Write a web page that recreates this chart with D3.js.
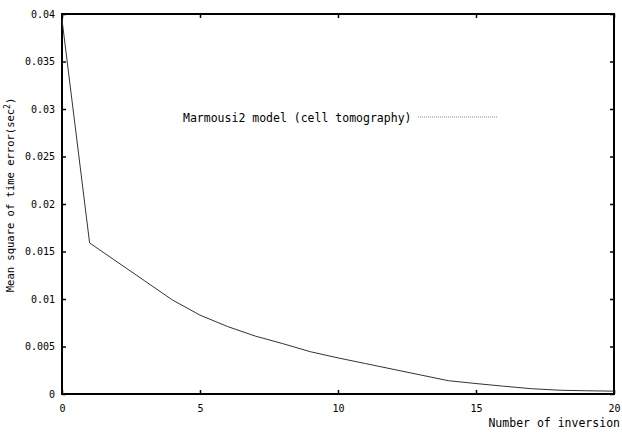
<!DOCTYPE html>
<html>
<head>
<meta charset="utf-8" />
<title>Mean square of time error</title>
<script src="https://d3js.org/d3.v7.min.js"></script>
<style>
  body { margin: 0; background: #fff; }
  text { font-family: "DejaVu Sans Mono", "Liberation Mono", monospace; fill: #000; }
</style>
</head>
<body>
<script>
// data
const iterations = [0, 1, 2, 3, 4, 5, 6, 7, 8, 9, 10, 11, 12, 13, 14, 15, 16, 17, 18, 19, 20];
const msError = [0.0394, 0.0159, 0.0139, 0.0119, 0.0099, 0.0083, 0.0071, 0.0061, 0.0053, 0.00445, 0.0038,
                 0.0032, 0.0026, 0.0020, 0.0014, 0.00110, 0.00082, 0.00056, 0.00040, 0.00034, 0.0003];
const xTicks = [0, 5, 10, 15, 20];
const yTicks = [0, 0.005, 0.01, 0.015, 0.02, 0.025, 0.03, 0.035, 0.04];
const seriesName = "Marmousi2 model (cell tomography)";

const width = 622, height = 432;
const margin = { top: 14, right: 8, bottom: 38, left: 62 };

const svg = d3.select("body").append("svg")
  .attr("width", width)
  .attr("height", height);

const x = d3.scaleLinear().domain([0, 20]).range([margin.left, width - margin.right]);
const y = d3.scaleLinear().domain([0, 0.04]).range([height - margin.bottom, margin.top]);

// axes with inward ticks
const fmt = d => d3.format("~g")(d);

svg.append("g")
  .attr("transform", `translate(0,${y(0)})`)
  .call(d3.axisBottom(x).tickValues(xTicks).tickSize(-4).tickPadding(11).tickFormat(fmt))
  .call(g => g.select(".domain").remove())
  .call(g => g.selectAll("text").style("font-size", "10px"))
  .call(g => g.selectAll("line").attr("stroke-width", 1.5));

svg.append("g")
  .attr("transform", `translate(${x(0)},0)`)
  .call(d3.axisLeft(y).tickValues(yTicks).tickSize(-4).tickPadding(7).tickFormat(fmt))
  .call(g => g.select(".domain").remove())
  .call(g => g.selectAll("text").style("font-size", "10px"))
  .call(g => g.selectAll("line").attr("stroke-width", 1.5));

// right side ticks
svg.append("g")
  .attr("transform", `translate(${x(20)},0)`)
  .call(d3.axisRight(y).tickValues(yTicks).tickSize(-4).tickFormat(""))
  .call(g => g.select(".domain").remove())
  .call(g => g.selectAll("line").attr("stroke-width", 1.5));

// top ticks
svg.append("g")
  .attr("transform", `translate(0,${y(0.04)})`)
  .call(d3.axisTop(x).tickValues(xTicks).tickSize(-4).tickFormat(""))
  .call(g => g.select(".domain").remove())
  .call(g => g.selectAll("line").attr("stroke-width", 1.5));

// frame
svg.append("rect")
  .attr("x", x(0))
  .attr("y", y(0.04))
  .attr("width", x(20) - x(0))
  .attr("height", y(0) - y(0.04))
  .attr("fill", "none")
  .attr("stroke", "#000")
  .attr("stroke-width", 2);

// the curve
const line = d3.line()
  .x((d, i) => x(iterations[i]))
  .y(d => y(d));

svg.append("path")
  .datum(msError)
  .attr("d", line)
  .attr("fill", "none")
  .attr("stroke", "#333")
  .attr("stroke-width", 1);

// legend
const legend = svg.append("g").attr("transform", "translate(183,122)");
legend.append("text")
  .attr("x", 0)
  .attr("y", 0)
  .style("font-size", "11.5px")
  .text(seriesName);
legend.append("line")
  .attr("x1", 235).attr("x2", 315)
  .attr("y1", -5).attr("y2", -5)
  .attr("stroke", "#888")
  .attr("stroke-width", 1)
  .attr("stroke-dasharray", "1,1");

// axis titles
svg.append("text")
  .attr("x", 620)
  .attr("y", 427)
  .attr("text-anchor", "end")
  .style("font-size", "11.5px")
  .text("Number of inversion");

const yTitle = svg.append("text")
  .attr("transform", "translate(14,195) rotate(-90)")
  .attr("text-anchor", "middle")
  .style("font-size", "10.5px");
yTitle.append("tspan").text("Mean square of time error(sec");
yTitle.append("tspan").attr("dy", -4).style("font-size", "8px").text("2");
yTitle.append("tspan").attr("dy", 4).text(")");
</script>
</body>
</html>
